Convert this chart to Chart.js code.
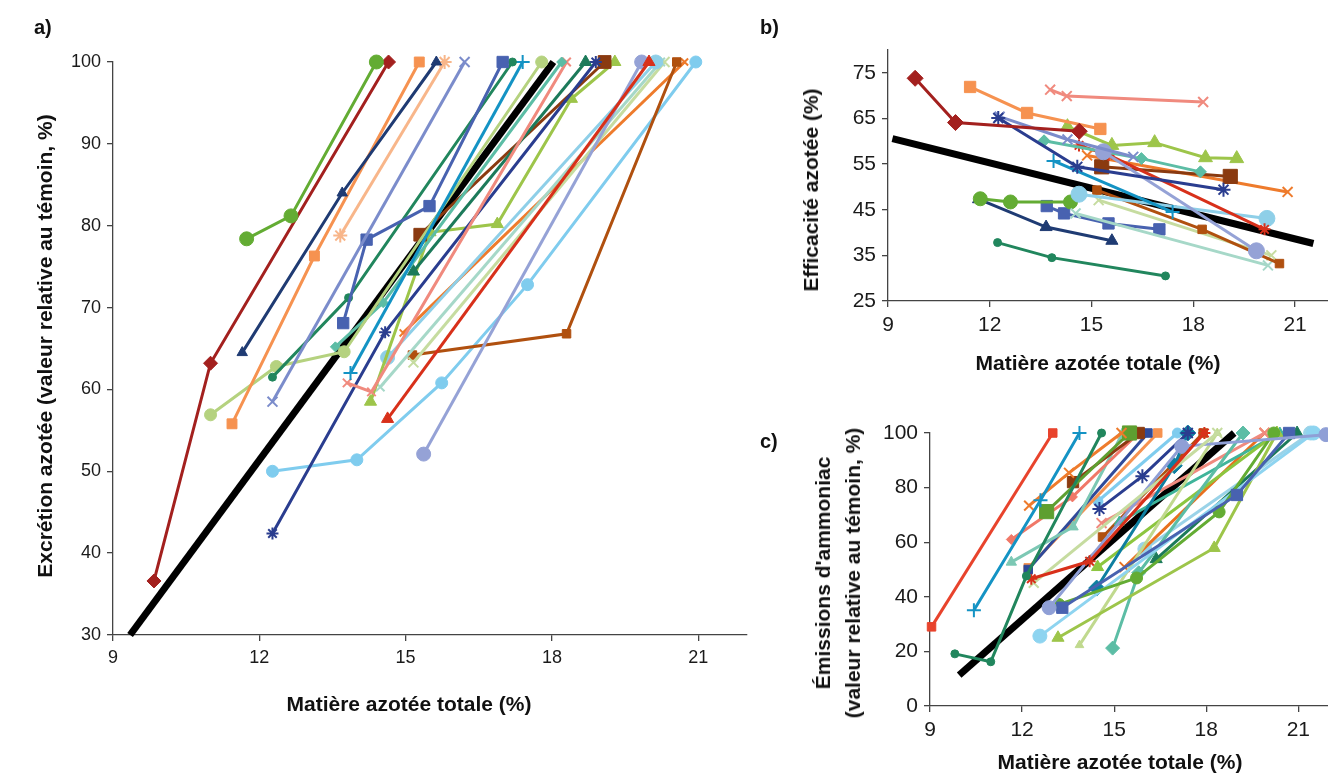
<!DOCTYPE html>
<html>
<head>
<meta charset="utf-8">
<script src="https://cdn.jsdelivr.net/npm/chart.js@4"></script>
<style>
  html, body { margin: 0; padding: 0; background: #fff; overflow: hidden; }
  body { width: 1328px; height: 774px; position: relative; font-family: "Liberation Sans", Arial, sans-serif; }
  canvas { position: absolute; }
  .lbl { position: absolute; font-weight: bold; font-size: 21px; color: #111; white-space: nowrap; }
  .tag { font-size: 20px; }
  .rot { transform: translate(-50%, -50%) rotate(-90deg); text-align: center; line-height: 30px; }
  .hor { transform: translate(-50%, -50%); }
</style>
</head>
<body>
<canvas id="chartA" width="760" height="730" style="left:0;top:0"></canvas>
<canvas id="chartB" width="570" height="400" style="left:770px;top:0"></canvas>
<canvas id="chartC" width="570" height="374" style="left:770px;top:400px"></canvas>

<div class="lbl tag" style="left:34px;top:16px">a)</div>
<div class="lbl rot" style="left:45px;top:346px">Excrétion azotée (valeur relative au témoin, %)</div>
<div class="lbl hor" style="left:409px;top:704px">Matière azotée totale (%)</div>

<div class="lbl tag" style="left:760px;top:16px">b)</div>
<div class="lbl rot" style="left:811px;top:190px">Efficacité azotée (%)</div>
<div class="lbl hor" style="left:1098px;top:363px">Matière azotée totale (%)</div>

<div class="lbl tag" style="left:760px;top:430px">c)</div>
<div class="lbl rot" style="left:838px;top:573px">Émissions d'ammoniac<br>(valeur relative au témoin, %)</div>
<div class="lbl hor" style="left:1120px;top:762px">Matière azotée totale (%)</div>

<script>
// a) excrétion azotée vs MAT, one list per essai
const excrMat = [
  [11.74, 12.65, 14.40], [9.84, 11.0, 14.65], [11.65, 13.7, 15.63], [11.44, 13.13, 15.28],
  [13.66, 15.80], [12.27, 16.21], [13.72, 14.2, 15.49, 16.99], [12.27, 13.83, 17.19],
  [13.87, 17.4], [11.0, 12.35, 13.74, 17.79], [13.56, 14.54, 18.2], [13.8, 14.3, 18.3],
  [15.16, 18.69], [12.27, 14.58, 18.9], [15.3, 19.08], [14.28, 15.5, 16.88, 18.4, 19.29],
  [14.63, 19.99], [15.37, 19.84], [14.63, 20.13], [14.48, 20.23], [15.16, 20.31],
  [15.14, 18.3, 20.56], [14.95, 20.72], [12.27, 14.0, 15.74, 17.5, 20.95]
];
const excrVal = [
  [78.4, 81.2, 100], [36.6, 63.2, 100], [64.5, 84.0, 100], [55.8, 76.3, 100],
  [78.8, 100], [58.5, 100], [68.1, 78.3, 82.4, 100], [61.5, 71.2, 100],
  [62.0, 100], [56.9, 62.8, 64.6, 100], [65.2, 70.6, 100], [60.8, 59.7, 100],
  [74.4, 100], [42.4, 67.0, 100], [78.9, 100], [58.5, 79.2, 80.2, 95.5, 100],
  [56.4, 100], [52.1, 100], [63.9, 100], [60.3, 100], [63.3, 100],
  [64.2, 66.8, 100], [66.9, 100], [50.0, 51.4, 60.8, 72.8, 100]
];
const excrTrendX = [9.35, 18.03];
const excrTrendY = [30, 100];
const excrTicks = [30, 40, 50, 60, 70, 80, 90, 100];

// b) efficacité azotée vs MAT
const effMat = [
  [9.8, 10.99, 14.64], [11.42, 13.1, 15.26], [13.78, 14.27, 18.29], [12.25, 14.58, 18.89],
  [12.29, 14.29, 16.23], [15.35, 19.86], [14.29, 15.6, 16.86, 18.36, 19.28], [13.6, 16.47, 18.21],
  [14.63, 15.5, 20.1], [15.3, 19.09], [14.87, 20.78], [13.88, 17.39],
  [14.63, 20.17], [15.16, 18.26, 20.54], [15.21, 20.3], [14.53, 20.2],
  [11.72, 12.61, 14.38], [13.68, 14.19, 15.5, 17.0], [11.67, 13.66, 15.6], [12.23, 13.83, 17.18]
];
const effVal = [
  [73.8, 64.1, 62.2], [71.9, 66.2, 62.7], [71.3, 69.9, 68.6], [65.1, 54.4, 49.4],
  [65.4, 60.4, 56.6], [57.7, 36.0], [63.2, 59.1, 59.7, 56.4, 56.2], [60.1, 56.2, 53.3],
  [59.1, 57.0, 40.7], [54.4, 52.3], [56.9, 48.9], [55.7, 44.5],
  [48.4, 43.1], [49.3, 40.7, 33.2], [47.1, 35.0], [44.2, 32.8],
  [47.4, 46.7, 46.7], [45.8, 44.2, 42.0, 40.7], [47.3, 41.2, 38.2], [37.8, 34.5, 30.5]
];
const effTrendX = [9.13, 21.54];
const effTrendY = [60.6, 37.6];
const effTicks = [25, 35, 45, 55, 65, 75];

// c) émissions d'ammoniac vs MAT
const nh3Mat = [
  [9.05, 13.0], [10.43, 12.6, 13.87], [9.81, 10.98, 12.14, 14.59], [12.23, 13.53, 15.24],
  [12.8, 15.5], [13.66, 15.8], [11.65, 13.64, 15.8], [11.65, 13.66, 15.28],
  [12.2, 16.1], [12.2, 16.42], [12.3, 14.2, 17.94], [12.38, 18.36],
  [12.88, 17.2, 21.9], [13.31, 19.0, 20.7], [13.2, 15.73, 18.42, 20.2], [12.58, 21.5],
  [13.17, 18.26, 20.3], [13.87, 18.36], [14.95, 15.8, 19.2], [14.52, 15.92, 17.4],
  [14.43, 16.96, 17.4], [14.46, 20.3], [16.37, 20.96], [14.59, 19.9],
  [15.17, 20.4], [15.34, 19.9], [14.62, 17.9], [14.47, 17.06], [16.0, 21.4]
];
const nh3Val = [
  [29.0, 100], [35.1, 75.4, 100], [19.1, 16.2, 47.6, 100], [73.4, 85.4, 100],
  [71.2, 100], [82.0, 100], [61.0, 76.6, 100], [52.7, 65.6, 100],
  [50.0, 100], [50.6, 100], [46.6, 53.0, 100], [45.1, 100],
  [36.0, 95.1, 99.4], [36.0, 77.3, 100], [37.2, 46.9, 71.1, 100], [25.6, 100],
  [25.0, 57.9, 100], [22.3, 100], [21.2, 48.8, 100], [72.2, 84.2, 100],
  [43.2, 88.0, 100], [50.9, 100], [53.8, 100], [67.0, 100],
  [67.4, 100], [50.9, 100], [61.9, 100], [75.0, 100], [57.5, 100]
];
const nh3TrendX = [9.95, 18.91];
const nh3TrendY = [11.3, 100];
const nh3Ticks = [0, 20, 40, 60, 80, 100];

const xTicks = [9, 12, 15, 18, 21];

// series styles: [colour, pointStyle, radius]
const excrStyle = [
  ['#63ac33', 'circle', 7], ['#a3201e', 'rectRot', 7], ['#1f3b73', 'triangle', 6], ['#f69250', 'rect', 7],
  ['#f8b68a', 'star', 7], ['#7b8ccb', 'crossRot', 7], ['#4862b0', 'rect', 8], ['#21865d', 'circle', 4],
  ['#1493c4', 'cross', 7], ['#b5d27f', 'circle', 6], ['#5cbda5', 'rectRot', 5], ['#f08a7e', 'crossRot', 6],
  ['#1c7a5a', 'triangle', 7], ['#2a3d8f', 'star', 6], ['#8a3a10', 'rect', 9], ['#9dc54a', 'triangle', 7],
  ['#d8301a', 'triangle', 7], ['#95a2d6', 'circle', 7], ['#8ecfe8', 'circle', 7], ['#a6d8c8', 'crossRot', 6],
  ['#c6dca0', 'crossRot', 7], ['#b0500f', 'rect', 6], ['#ee7b2c', 'crossRot', 5], ['#7fccee', 'circle', 6]
];
const effStyle = [
  ['#a3201e', 'rectRot', 8], ['#f69250', 'rect', 8], ['#f08a7e', 'crossRot', 7], ['#2a3d8f', 'star', 7],
  ['#7b8ccb', 'crossRot', 7], ['#95a2d6', 'circle', 8], ['#9dc54a', 'triangle', 8], ['#5cbda5', 'rectRot', 6],
  ['#d8301a', 'star', 6], ['#8a3a10', 'rect', 10], ['#ee7b2c', 'crossRot', 7], ['#1493c4', 'cross', 7],
  ['#8ecfe8', 'circle', 8], ['#b0500f', 'rect', 6], ['#c6dca0', 'crossRot', 7], ['#a6d8c8', 'crossRot', 7],
  ['#63ac33', 'circle', 7], ['#4862b0', 'rect', 8], ['#1f3b73', 'triangle', 7], ['#21865d', 'circle', 4]
];
const nh3Style = [
  ['#e8432c', 'rect', 6], ['#1493c4', 'cross', 7], ['#21865d', 'circle', 4], ['#ee7b2c', 'crossRot', 7],
  ['#5e9f30', 'rect', 10], ['#8a3a10', 'rect', 8], ['#f07868', 'rectRot', 5], ['#7cc8b4', 'triangle', 6],
  ['#2f4a9a', 'rect', 6], ['#f69250', 'rect', 6], ['#d8301a', 'star', 6], ['#c6dca0', 'crossRot', 7],
  ['#8f9fd6', 'circle', 7], ['#4862b0', 'rect', 8], ['#63ac33', 'circle', 6], ['#8ed4f0', 'circle', 7],
  ['#9dc54a', 'triangle', 7], ['#c0d98e', 'triangle', 5], ['#5cbda5', 'rectRot', 7], ['#2a3d8f', 'star', 7],
  ['#0e7fa0', 'rectRot', 8], ['#8cc63f', 'triangle', 7], ['#1c7a5a', 'triangle', 7], ['#f08a7e', 'crossRot', 7],
  ['#3fb49a', 'triangle', 6], ['#e8701e', 'crossRot', 7], ['#b0500f', 'rect', 6], ['#7fccee', 'circle', 5], ['#9ad3e8', 'circle', 7]
];

function buildSets(xs, ys, styles, trendX, trendY) {
  const sets = xs.map((xl, i) => {
    const [col, shape, r] = styles[i];
    return {
      data: xl.map((x, j) => ({ x: x, y: ys[i][j] })),
      showLine: true,
      borderColor: col,
      backgroundColor: col,
      borderWidth: 3,
      pointStyle: shape,
      pointRadius: r,
      pointBorderColor: col,
      pointBackgroundColor: col,
      pointBorderWidth: (shape === 'cross' || shape === 'crossRot' || shape === 'star') ? 2 : 1,
      clip: false
    };
  });
  // black regression line drawn last, on top
  sets.push({
    data: trendX.map((x, j) => ({ x: x, y: trendY[j] })),
    showLine: true,
    borderColor: '#000',
    borderWidth: 7,
    pointRadius: 0,
    clip: false
  });
  return sets;
}

function axis(min, max, fitFn, keep, fontSize) {
  return {
    type: 'linear',
    min: min,
    max: max,
    afterFit: fitFn,
    afterBuildTicks: (s) => { s.ticks = keep.map(v => ({ value: v })); },
    ticks: {
      color: '#1a1a1a',
      padding: 6,
      font: { family: '"Liberation Sans", Arial, sans-serif', size: fontSize }
    },
    grid: { drawOnChartArea: false, drawTicks: true, tickLength: 6, color: '#444', lineWidth: 1.3 },
    border: { color: '#444', width: 1.3 }
  };
}

function makeChart(id, sets, xAxis, yAxis, pad) {
  return new Chart(document.getElementById(id), {
    type: 'scatter',
    data: { datasets: sets },
    options: {
      responsive: false,
      animation: false,
      layout: { padding: pad },
      plugins: { legend: { display: false }, tooltip: { enabled: false } },
      scales: { x: xAxis, y: yAxis }
    }
  });
}

makeChart('chartA',
  buildSets(excrMat, excrVal, excrStyle, excrTrendX, excrTrendY),
  axis(9, 22, s => { s.height = 95; }, xTicks, 18),
  axis(30, 100, s => { s.width = 113; }, excrTicks, 18),
  { top: 62, right: 13, left: 0, bottom: 0 });

makeChart('chartB',
  buildSets(effMat, effVal, effStyle, effTrendX, effTrendY),
  axis(9, 22, s => { s.height = 99; }, xTicks, 21),
  axis(25, 80, s => { s.width = 118; }, effTicks, 21),
  { top: 50, right: 5, left: 0, bottom: 0 });

makeChart('chartC',
  buildSets(nh3Mat, nh3Val, nh3Style, nh3TrendX, nh3TrendY),
  axis(9, 22, s => { s.height = 68; }, xTicks, 21),
  axis(0, 100, s => { s.width = 160; }, nh3Ticks, 21),
  { top: 33, right: 10, left: 0, bottom: 0 });
</script>
</body>
</html>
